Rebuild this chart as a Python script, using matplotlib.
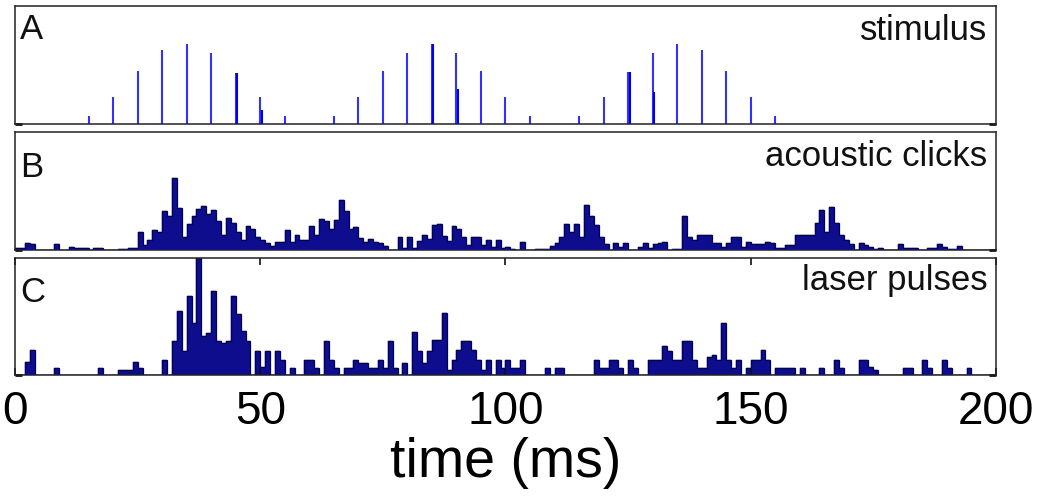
import matplotlib
matplotlib.use("Agg")
import matplotlib.pyplot as plt
import numpy as np

plt.rcParams['font.family'] = ['Liberation Sans', 'DejaVu Sans']

# ---------------- data ----------------
# Panel A: stimulus pulse times (ms) and relative amplitudes
stim_times = [15, 20, 25, 30, 35, 40, 45, 50, 55,
              65, 70, 75, 80, 85, 90, 95, 100, 105,
              115, 120, 125, 130, 135, 140, 145, 150, 155]
stim_amps = [0.10, 0.34, 0.66, 0.92, 1.00, 0.89, 0.63, 0.34, 0.10,
             0.10, 0.34, 0.66, 0.89, 1.00, 0.89, 0.66, 0.34, 0.10,
             0.10, 0.34, 0.65, 0.88, 1.00, 0.92, 0.66, 0.34, 0.10]
# secondary (overlapping) pulses seen as thicker segments
stim2_times = [45.3, 50.3, 85.3, 90.3, 125.3, 130.3]
stim2_amps = [0.63, 0.17, 1.00, 0.44, 0.65, 0.40]

# Panel B / C: PSTH, 1 ms bins from 0 to 200 ms (arbitrary count units)
bin_edges = list(range(0, 201))
clicks_counts = [
    5, 5, 20, 18, 0, 0, 0, 0, 18, 0,
    0, 8, 6, 6, 6, 0, 6, 6, 0, 0,
    0, 4, 4, 5, 5, 55, 15, 30, 60, 55,
    115, 100, 214, 125, 40, 78, 100, 122, 130, 108,
    120, 85, 45, 95, 80, 55, 30, 72, 62, 38,
    30, 20, 12, 25, 25, 60, 25, 45, 30, 30,
    72, 45, 92, 85, 62, 90, 148, 115, 62, 68,
    35, 25, 32, 25, 20, 12, 0, 0, 38, 5,
    38, 5, 28, 45, 32, 75, 78, 42, 28, 72,
    62, 38, 15, 40, 38, 15, 30, 10, 30, 5,
    8, 4, 0, 25, 0, 0, 4, 4, 4, 12,
    22, 38, 78, 55, 78, 38, 133, 100, 75, 40,
    18, 0, 20, 8, 20, 0, 0, 10, 20, 5,
    18, 20, 25, 0, 4, 4, 100, 38, 30, 45,
    45, 45, 20, 20, 8, 20, 40, 40, 10, 25,
    18, 18, 18, 25, 20, 5, 5, 15, 15, 45,
    45, 45, 45, 80, 120, 55, 128, 80, 45, 30,
    18, 0, 22, 15, 8, 4, 5, 0, 0, 0,
    18, 5, 5, 5, 0, 0, 5, 5, 18, 8,
    3, 3, 12, 0, 0, 0, 0, 0, 0, 0,
]
laser_counts = [
    0, 0, 40, 75, 0, 0, 0, 0, 20, 0,
    0, 0, 0, 0, 0, 0, 0, 20, 0, 0,
    0, 15, 15, 15, 38, 20, 0, 0, 0, 0,
    45, 0, 100, 190, 70, 235, 155, 350, 115, 125,
    250, 100, 95, 100, 235, 180, 130, 100, 0, 70,
    25, 70, 0, 70, 45, 0, 20, 0, 0, 45,
    45, 20, 0, 100, 45, 20, 0, 20, 20, 45,
    35, 35, 20, 20, 45, 20, 100, 20, 0, 35,
    0, 128, 70, 35, 70, 105, 105, 185, 15, 45,
    75, 100, 100, 75, 45, 15, 45, 0, 45, 20,
    45, 20, 20, 45, 0, 0, 0, 0, 20, 0,
    20, 20, 0, 0, 0, 0, 0, 0, 45, 20,
    20, 45, 45, 20, 0, 45, 20, 0, 0, 45,
    45, 45, 85, 70, 45, 45, 100, 100, 45, 20,
    20, 55, 60, 45, 155, 45, 20, 45, 0, 20,
    45, 45, 75, 45, 0, 20, 20, 20, 20, 0,
    20, 0, 0, 0, 20, 0, 0, 45, 20, 0,
    0, 0, 45, 45, 25, 15, 0, 0, 0, 0,
    0, 20, 20, 0, 0, 45, 20, 0, 0, 45,
    20, 0, 0, 0, 20, 0, 0, 0, 0, 0,
]
x_ticks = [0, 50, 100, 150, 200]
x_ticklabels = ['0', '50', '100', '150', '200']
panel_letters = ['A', 'B', 'C']
panel_titles = ['stimulus', 'acoustic clicks', 'laser pulses']
x_label = 'time (ms)'

# ---------------- figure ----------------
W, H = 1050, 500
fig = plt.figure(figsize=(W / 100, H / 100), dpi=100)

left = 15 / W
width = (996 - 15) / W
panels_px = [(6, 124), (132, 250), (258, 375)]
axes = []
for top, bot in panels_px:
    ax = fig.add_axes([left, 1 - bot / H, width, (bot - top) / H])
    axes.append(ax)

frame_col = '#222222'
bar_face = '#0d0d8e'
bar_edge = '#00005e'

for ax in axes:
    ax.set_xlim(0, 200)
    for s in ax.spines.values():
        s.set_color(frame_col)
        s.set_linewidth(1.1)
    ax.set_yticks([0])
    ax.set_yticklabels([])
    ax.tick_params(axis='y', direction='in', left=True, right=True,
                   length=5, width=2, color='#111111')

# Panel A
axA = axes[0]
axA.vlines(stim_times, 0, stim_amps, color='#3030ff', linewidth=1.5)
axA.vlines(stim2_times, 0, stim2_amps, color='#0000ee', linewidth=1.5)
axA.set_ylim(0, 1.47)

# Panel B / C histograms: solid bars plus darker envelope outline
for ax, counts, ytop in ((axes[1], clicks_counts, 351), (axes[2], laser_counts, 348)):
    ax.bar(bin_edges[:-1], counts, width=1.0, align='edge',
           color=bar_face, edgecolor=bar_face, linewidth=0.3)
    ax.stairs(counts, bin_edges, color=bar_edge, linewidth=0.9)
    ax.set_ylim(0, ytop)

axC = axes[2]
for ax in axes[:2]:
    ax.set_xticks([])
axC.set_xticks(x_ticks)
axC.set_xticklabels(x_ticklabels)
axC.tick_params(axis='x', direction='in', top=True, bottom=True,
                length=5, width=1.2, color='#111111',
                labelsize=33, pad=11)
axC.set_xlabel(x_label, fontsize=40, labelpad=2)

# panel texts
letter_y = [0.72, 0.62, 0.627]
title_y = [0.715, 0.714, 0.727]
for ax, let, tit, ly, ty in zip(axes, panel_letters, panel_titles, letter_y, title_y):
    ax.text(0.005, ly, let, transform=ax.transAxes, fontsize=25,
            ha='left', va='baseline', color='#111111')
    ax.text(0.991, ty, tit, transform=ax.transAxes, fontsize=25,
            ha='right', va='baseline', color='#111111')

fig.savefig('out.png', dpi=100)
